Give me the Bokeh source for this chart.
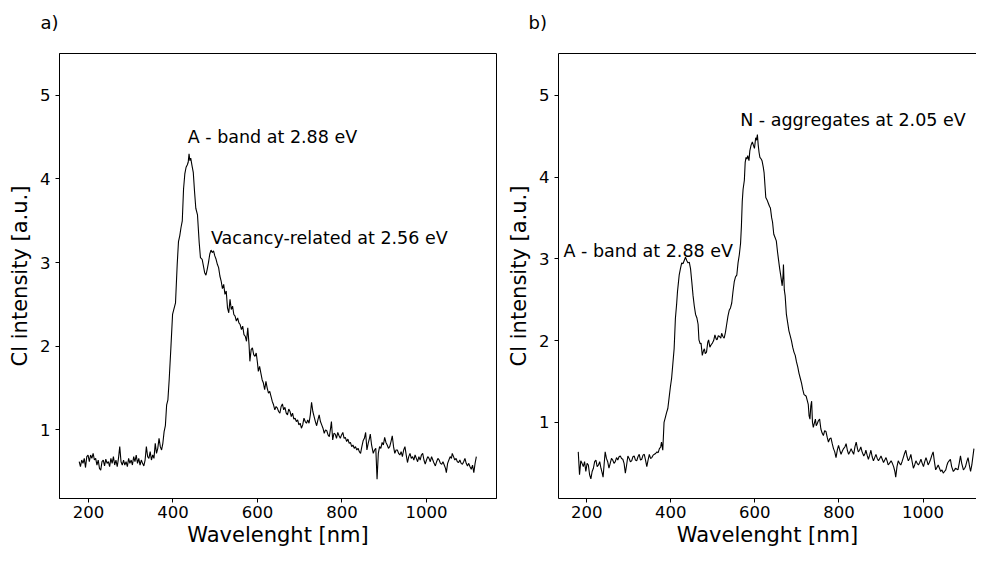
from bokeh.plotting import figure
from bokeh.layouts import row
from bokeh.models import Label, FixedTicker, Range1d, LinearAxis, Title
from bokeh.embed import file_html
from bokeh.resources import INLINE

# ---------------- data ----------------
wl_a = [178, 181, 184, 187, 190, 193, 196, 199, 202, 205, 208, 211, 214, 217, 220, 223, 226, 229, 232, 235,
        238, 241, 244, 247, 250, 253, 256, 259, 262, 265, 268, 271, 274, 277, 280, 283, 286, 289, 292, 295,
        298, 301, 304, 307, 310, 313, 316, 319, 322, 325, 328, 331, 334, 337, 340, 343, 346, 349, 352, 355,
        358, 361, 364, 367, 370, 373, 376, 379, 382, 385, 388, 391, 395, 399, 402, 406, 410, 413, 416, 419,
        422, 425, 428, 431, 434, 436, 438, 440, 442, 445, 448, 451, 454, 458, 462, 465, 469, 472, 475, 478,
        481, 484, 487, 490, 493, 496, 499, 502, 505, 508, 511, 514, 517, 520, 523, 526, 529, 532, 535, 538,
        541, 544, 547, 550, 553, 556, 559, 562, 565, 568, 571, 574, 577, 580, 582, 585, 588, 591, 594, 597,
        600, 602, 605, 608, 611, 614, 617, 620, 623, 626, 629, 632, 635, 638, 641, 644, 647, 650, 653, 656,
        659, 662, 665, 668, 671, 674, 677, 680, 683, 686, 689, 692, 695, 698, 701, 704, 707, 710, 713, 716,
        719, 722, 725, 728, 731, 734, 737, 740, 743, 746, 749, 752, 755, 758, 761, 764, 767, 770, 773, 775,
        778, 781, 784, 787, 790, 793, 796, 799, 802, 805, 808, 811, 814, 817, 820, 823, 826, 829, 832, 835,
        838, 841, 844, 847, 850, 853, 856, 859, 862, 865, 867, 870, 874, 877, 880, 883, 886, 889, 892, 895,
        898, 901, 904, 907, 910, 913, 916, 919, 922, 925, 928, 931, 934, 937, 940, 943, 946, 949, 952, 955,
        958, 961, 964, 967, 970, 973, 976, 979, 982, 985, 988, 991, 994, 997, 1000, 1003, 1006, 1009, 1012, 1015,
        1018, 1021, 1024, 1027, 1030, 1033, 1036, 1039, 1042, 1045, 1047, 1050, 1053, 1056, 1059, 1061, 1064, 1067, 1070, 1073,
        1076, 1079, 1082, 1085, 1088, 1091, 1094, 1097, 1100, 1103, 1106, 1109, 1112, 1115, 1118]
cl_a = [0.62, 0.56, 0.64, 0.60, 0.66, 0.55, 0.68, 0.70, 0.62, 0.70, 0.66, 0.72, 0.64, 0.66, 0.58, 0.64, 0.54, 0.52, 0.62, 0.64,
        0.57, 0.65, 0.60, 0.62, 0.56, 0.66, 0.60, 0.68, 0.58, 0.64, 0.56, 0.66, 0.80, 0.62, 0.58, 0.64, 0.58, 0.62, 0.56, 0.66,
        0.60, 0.64, 0.58, 0.68, 0.62, 0.70, 0.60, 0.66, 0.58, 0.64, 0.60, 0.57, 0.64, 0.80, 0.68, 0.66, 0.74, 0.64, 0.70, 0.66,
        0.84, 0.72, 0.78, 0.90, 0.80, 0.76, 0.84, 0.98, 1.05, 1.30, 1.36, 1.60, 1.98, 2.38, 2.44, 2.52, 2.98, 3.25, 3.32, 3.42,
        3.50, 3.88, 4.06, 4.14, 4.17, 4.20, 4.30, 4.22, 4.25, 4.16, 4.08, 3.85, 3.65, 3.57, 3.24, 3.06, 3.04, 2.96, 2.88, 2.85,
        2.92, 3.00, 3.10, 3.15, 3.12, 3.14, 3.08, 3.04, 2.98, 2.94, 2.84, 2.78, 2.69, 2.74, 2.62, 2.66, 2.46, 2.40, 2.56, 2.44,
        2.48, 2.38, 2.36, 2.30, 2.34, 2.28, 2.26, 2.20, 2.24, 2.14, 2.12, 2.06, 2.22, 2.02, 1.82, 1.96, 1.98, 1.90, 1.88, 1.92,
        1.80, 1.70, 1.76, 1.68, 1.60, 1.56, 1.48, 1.58, 1.50, 1.44, 1.46, 1.40, 1.34, 1.30, 1.24, 1.28, 1.26, 1.22, 1.20, 1.28,
        1.31, 1.24, 1.27, 1.20, 1.18, 1.25, 1.22, 1.16, 1.20, 1.13, 1.14, 1.10, 1.12, 1.06, 1.08, 1.02, 1.06, 1.14, 1.10, 1.08,
        1.12, 1.08, 1.18, 1.33, 1.22, 1.16, 1.10, 1.05, 1.12, 1.18, 1.10, 1.06, 1.02, 0.96, 1.00, 0.99, 0.94, 0.92, 1.02, 1.10,
        0.88, 0.96, 0.95, 0.90, 0.97, 0.93, 0.90, 0.94, 0.97, 0.90, 0.91, 0.86, 0.89, 0.84, 0.85, 0.80, 0.82, 0.78, 0.80, 0.76,
        0.78, 0.74, 0.72, 0.80, 0.87, 0.90, 0.97, 0.76, 0.84, 0.90, 0.95, 0.82, 0.72, 0.76, 0.78, 0.41, 0.72, 0.80, 0.78, 0.85,
        0.82, 0.91, 0.85, 0.82, 0.78, 0.80, 0.86, 0.93, 0.80, 0.72, 0.76, 0.76, 0.72, 0.70, 0.74, 0.68, 0.76, 0.80, 0.70, 0.61,
        0.68, 0.72, 0.66, 0.68, 0.64, 0.70, 0.66, 0.62, 0.68, 0.64, 0.70, 0.72, 0.64, 0.59, 0.64, 0.68, 0.66, 0.62, 0.68, 0.64,
        0.60, 0.57, 0.62, 0.66, 0.64, 0.60, 0.59, 0.62, 0.58, 0.54, 0.49, 0.60, 0.64, 0.68, 0.66, 0.72, 0.68, 0.64, 0.66, 0.62,
        0.61, 0.64, 0.60, 0.59, 0.62, 0.66, 0.60, 0.57, 0.60, 0.56, 0.53, 0.58, 0.49, 0.60, 0.68]

wl_b = [180, 183, 186, 189, 192, 195, 198, 201, 204, 207, 210, 213, 216, 219, 222, 225, 228, 231, 234, 237,
        239, 242, 244, 247, 250, 253, 256, 259, 262, 265, 268, 271, 274, 277, 280, 283, 286, 289, 292, 295,
        298, 301, 304, 307, 310, 313, 316, 319, 322, 325, 328, 331, 334, 337, 340, 343, 346, 349, 352, 355,
        358, 361, 364, 367, 370, 373, 376, 378, 381, 384, 387, 390, 393, 396, 399, 402, 405, 408, 411, 414,
        416, 418, 420, 423, 426, 429, 432, 435, 438, 441, 444, 447, 450, 453, 456, 459, 462, 465, 467, 470,
        472, 475, 478, 480, 482, 485, 488, 490, 493, 496, 499, 502, 505, 508, 510, 513, 516, 519, 521, 524,
        527, 530, 533, 536, 539, 542, 545, 548, 551, 554, 557, 560, 563, 566, 568, 570, 572, 575, 577, 579,
        581, 583, 586, 588, 591, 594, 597, 599, 602, 604, 606, 608, 610, 612, 615, 617, 620, 622, 624, 626,
        629, 632, 635, 637, 640, 642, 645, 648, 651, 654, 656, 659, 662, 665, 667, 668, 670, 672, 675, 678,
        681, 684, 687, 690, 693, 696, 699, 702, 705, 708, 711, 714, 717, 720, 722, 725, 727, 729, 731, 733,
        735, 737, 739, 742, 744, 746, 748, 751, 754, 757, 760, 763, 766, 769, 772, 775, 778, 781, 784, 787,
        790, 793, 796, 799, 802, 805, 808, 811, 814, 817, 820, 823, 826, 829, 832, 835, 838, 841, 844, 846,
        849, 852, 855, 859, 862, 864, 867, 870, 873, 876, 879, 882, 885, 888, 891, 894, 897, 900, 903, 906,
        909, 912, 915, 917, 920, 924, 927, 930, 933, 935, 938, 941, 944, 947, 950, 953, 956, 959, 962, 965,
        968, 971, 974, 977, 980, 983, 986, 989, 992, 995, 998, 1001, 1004, 1007, 1010, 1012, 1015, 1018, 1021, 1024,
        1027, 1030, 1033, 1036, 1039, 1042, 1045, 1048, 1051, 1054, 1057, 1059, 1062, 1065, 1068, 1072, 1075, 1077, 1080, 1083,
        1086, 1089, 1092, 1096, 1099, 1101, 1104, 1107, 1110, 1113, 1116, 1118, 1121]
cl_b = [0.64, 0.36, 0.53, 0.50, 0.46, 0.52, 0.40, 0.50, 0.48, 0.36, 0.31, 0.40, 0.44, 0.52, 0.54, 0.46, 0.48, 0.52, 0.44, 0.38,
        0.33, 0.52, 0.64, 0.56, 0.52, 0.44, 0.50, 0.56, 0.54, 0.50, 0.52, 0.57, 0.54, 0.58, 0.59, 0.56, 0.55, 0.50, 0.38, 0.48,
        0.59, 0.56, 0.52, 0.53, 0.58, 0.59, 0.54, 0.53, 0.58, 0.61, 0.54, 0.55, 0.60, 0.61, 0.54, 0.46, 0.54, 0.61, 0.56, 0.57,
        0.60, 0.61, 0.62, 0.64, 0.63, 0.68, 0.70, 0.76, 0.66, 1.00, 1.06, 1.12, 1.17, 1.30, 1.43, 1.54, 1.72, 1.90, 2.27, 2.45,
        2.60, 2.70, 2.80, 2.88, 2.95, 2.94, 2.98, 3.02, 2.98, 2.95, 2.96, 2.88, 2.72, 2.55, 2.42, 2.32, 2.28, 2.20, 2.01, 1.96,
        1.97, 1.82, 1.88, 1.90, 1.84, 1.86, 1.98, 2.01, 1.92, 1.95, 1.97, 2.00, 2.07, 2.02, 2.01, 2.06, 2.05, 2.03, 2.09, 2.05,
        2.03, 2.10, 2.20, 2.30, 2.37, 2.40, 2.46, 2.60, 2.72, 2.78, 2.80, 2.95, 3.05, 3.19, 3.40, 3.70, 3.85, 3.96, 4.18, 4.24,
        4.22, 4.26, 4.20, 4.32, 4.39, 4.43, 4.38, 4.35, 4.48, 4.45, 4.52, 4.39, 4.30, 4.24, 4.22, 4.20, 4.12, 4.05, 3.90, 3.75,
        3.72, 3.68, 3.64, 3.62, 3.50, 3.45, 3.30, 3.26, 3.22, 3.08, 3.00, 2.88, 2.78, 2.67, 2.80, 2.93, 2.62, 2.55, 2.32, 2.22,
        2.12, 2.06, 2.00, 1.92, 1.86, 1.82, 1.74, 1.68, 1.60, 1.54, 1.48, 1.40, 1.34, 1.33, 1.32, 1.26, 1.22, 1.08, 1.04, 1.20,
        1.26, 1.00, 0.94, 1.00, 1.04, 0.96, 0.98, 1.02, 1.04, 0.92, 0.87, 0.84, 0.90, 0.89, 0.82, 0.76, 0.80, 0.81, 0.74, 0.68,
        0.64, 0.57, 0.66, 0.72, 0.66, 0.61, 0.65, 0.68, 0.70, 0.74, 0.66, 0.61, 0.64, 0.68, 0.64, 0.61, 0.70, 0.76, 0.68, 0.64,
        0.66, 0.70, 0.64, 0.59, 0.62, 0.66, 0.60, 0.55, 0.60, 0.66, 0.58, 0.53, 0.57, 0.61, 0.56, 0.53, 0.56, 0.59, 0.55, 0.51,
        0.54, 0.57, 0.52, 0.48, 0.50, 0.53, 0.50, 0.46, 0.40, 0.33, 0.46, 0.53, 0.50, 0.48, 0.52, 0.57, 0.62, 0.66, 0.58, 0.53,
        0.56, 0.61, 0.52, 0.44, 0.48, 0.53, 0.50, 0.48, 0.51, 0.55, 0.50, 0.46, 0.52, 0.57, 0.52, 0.48, 0.51, 0.55, 0.60, 0.64,
        0.52, 0.42, 0.45, 0.48, 0.44, 0.40, 0.42, 0.38, 0.40, 0.42, 0.48, 0.51, 0.53, 0.55, 0.46, 0.40, 0.42, 0.44, 0.43, 0.42,
        0.50, 0.59, 0.50, 0.42, 0.44, 0.46, 0.52, 0.57, 0.48, 0.40, 0.48, 0.56, 0.68]

x_ticks = [200, 400, 600, 800, 1000]
y_ticks = [1, 2, 3, 4, 5]

panel_a_notes = [("A - band at 2.88 eV", 435, 4.5), ("Vacancy-related at 2.56 eV", 490, 3.3)]
panel_b_notes = [("N - aggregates at 2.05 eV", 565, 4.7), ("A - band at 2.88 eV", 145, 3.1)]

x_label = "Wavelenght [nm]"
y_label = "Cl intensity [a.u.]"

FONT = "DejaVu Sans"


def style_axis(ax, standoff):
    ax.axis_line_color = "black"
    ax.axis_line_width = 1
    ax.major_tick_line_color = "black"
    ax.major_tick_in = 0
    ax.major_tick_out = 4
    ax.minor_tick_in = 0
    ax.minor_tick_out = 0
    ax.major_label_text_font = FONT
    ax.major_label_text_font_size = "16.5px"
    ax.major_label_text_color = "black"
    ax.major_label_standoff = standoff
    ax.axis_label_text_font = FONT
    ax.axis_label_text_font_size = "21px"
    ax.axis_label_text_font_style = "normal"
    ax.axis_label_text_color = "black"


def make_panel(width, left, right, xr, yr, wl, cl, notes, tag, tag_offset, outline):
    p = figure(width=width, height=549, x_range=Range1d(*xr), y_range=Range1d(*yr),
               min_border_left=left, min_border_right=right, min_border_top=53, min_border_bottom=46,
               output_backend="svg", toolbar_location=None)
    p.background_fill_color = "white"
    p.border_fill_color = "white"
    p.xgrid.visible = False
    p.ygrid.visible = False
    xa = p.below[0]
    ya = p.left[0]
    style_axis(xa, 3)
    style_axis(ya, 5)
    xa.ticker = FixedTicker(ticks=x_ticks)
    ya.ticker = FixedTicker(ticks=y_ticks)
    xa.axis_label = x_label
    xa.axis_label_standoff = 2
    ya.axis_label = y_label
    ya.axis_label_standoff = 5
    if outline:
        p.outline_line_color = "black"
        p.outline_line_width = 1
    else:
        p.outline_line_color = None
        top = LinearAxis(ticker=FixedTicker(ticks=[]), major_tick_in=0, major_tick_out=0,
                         minor_tick_in=0, minor_tick_out=0, major_label_standoff=0,
                         axis_line_color="black", axis_line_width=1)
        p.add_layout(top, "above")
    p.line(wl, cl, line_color="black", line_width=1.1)
    for txt, x, y in notes:
        p.add_layout(Label(x=x, y=y, text=txt, text_font=FONT, text_font_size="17.5px",
                           text_color="black", text_align="left", text_baseline="alphabetic"))
    # invisible spacer between the frame and the panel tag
    p.add_layout(Title(text=" ", text_font_size="1px", standoff=18), "above")
    p.add_layout(Title(text=tag, align="left", offset=tag_offset, standoff=0,
                       text_font=FONT, text_font_size="18px", text_font_style="normal",
                       text_color="black"), "above")
    return p


pa = make_panel(504, 59, 8, (131.4, 1165.7), (0.18, 5.5), wl_a, cl_a, panel_a_notes, "a)", -19, True)
pb = make_panel(472, 52, 0, (133.0, 1127.1), (0.07, 5.51), wl_b, cl_b, panel_b_notes, "b)", -30, False)

layout = row(pa, pb)
open("out.html", "w").write(file_html(layout, INLINE))
